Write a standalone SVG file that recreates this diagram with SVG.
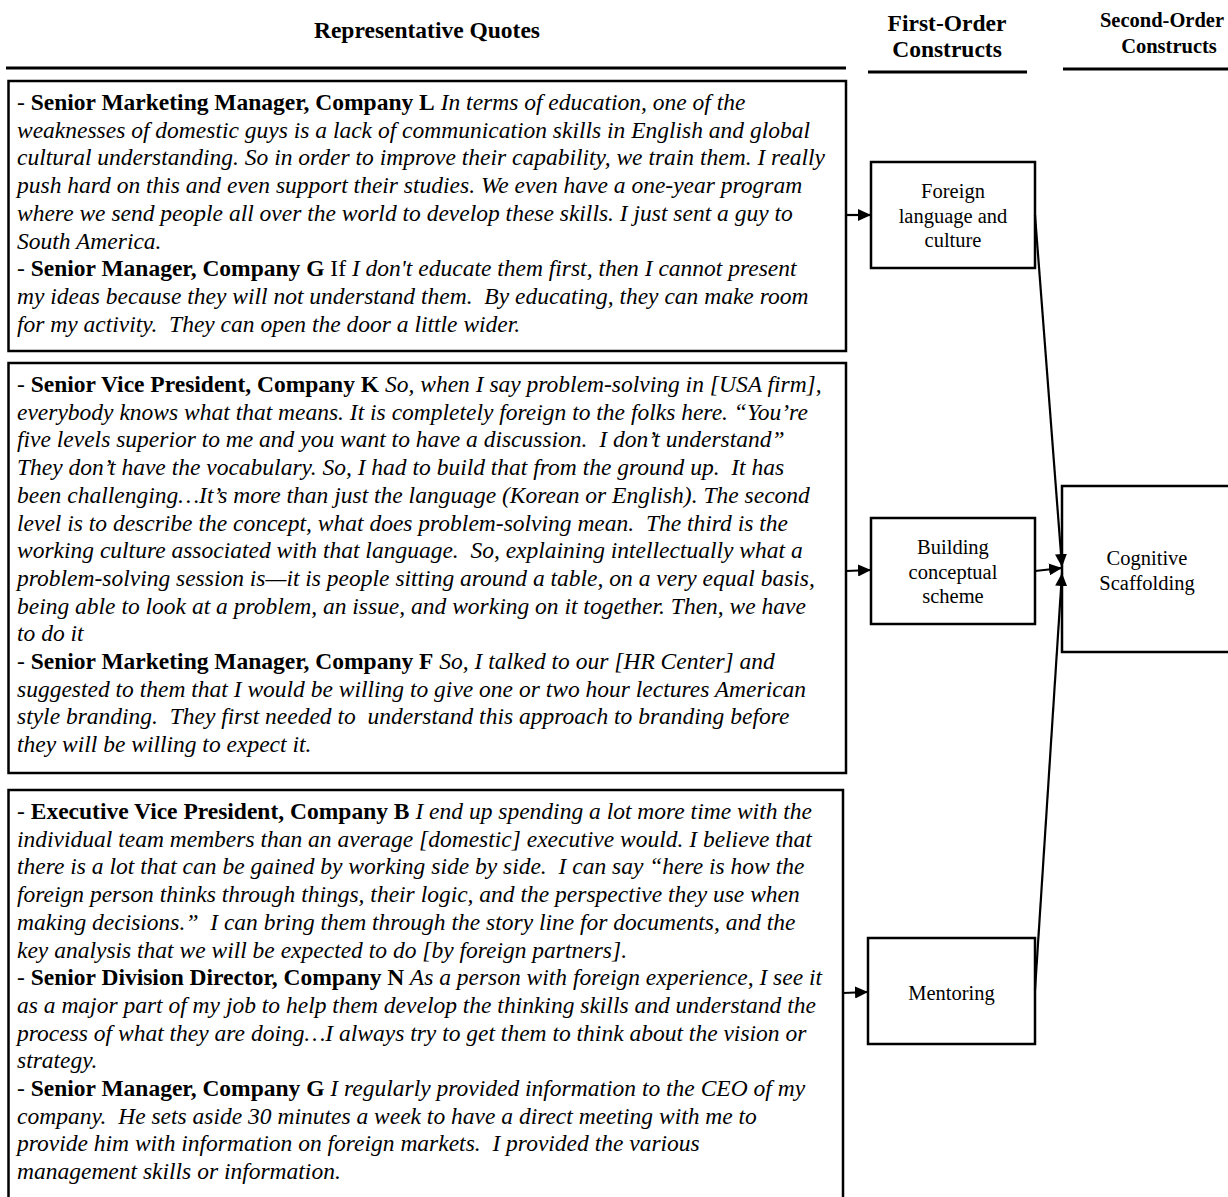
<svg xmlns="http://www.w3.org/2000/svg" width="1228" height="1197" viewBox="0 0 1228 1197">
<style>
.q{font-family:"Liberation Serif","Times New Roman",serif;font-size:23.5px;fill:#000;white-space:pre}
.b{font-weight:bold;font-style:normal}
.i{font-style:italic}
.r{font-style:normal;font-weight:normal}
.h{font-family:"Liberation Serif","Times New Roman",serif;font-size:23.5px;font-weight:bold;fill:#000;text-anchor:middle}
.h2{font-size:20.5px}
.n{font-family:"Liberation Serif","Times New Roman",serif;font-size:20.5px;fill:#000;text-anchor:middle}
.box{fill:#fff;stroke:#000;stroke-width:2.5}
.hl{stroke:#000;stroke-width:3;fill:none}
.c{stroke:#000;stroke-width:2.2;fill:none;marker-end:url(#ah)}
</style>
<defs>
<marker id="ah" markerUnits="userSpaceOnUse" markerWidth="14" markerHeight="12" refX="13" refY="6" orient="auto">
<path d="M0,0 L13,6 L0,12 z" fill="#000"/>
</marker>
</defs>
<rect width="1228" height="1197" fill="#fff"/>

<g id="header">
<text class="h" x="427" y="38">Representative Quotes</text>
<text class="h" x="947" y="31">First-Order</text>
<text class="h" x="947" y="57">Constructs</text>
<text class="h h2" x="1162" y="27">Second-Order</text>
<text class="h h2" x="1169" y="53">Constructs</text>
<line class="hl" x1="6" y1="68" x2="846" y2="68"/>
<line class="hl" x1="868" y1="72" x2="1027" y2="72"/>
<line class="hl" x1="1063" y1="69" x2="1228" y2="69"/>
</g>

<g id="quotes1">
<rect class="box" x="8.5" y="81" width="837.5" height="270"/>
<text class="q" x="17" y="110"><tspan class="r">- </tspan><tspan class="b">Senior Marketing Manager, Company L</tspan><tspan class="i"> In terms of education, one of the</tspan></text>
<text class="q i" x="17" y="137.7">weaknesses of domestic guys is a lack of communication skills in English and global</text>
<text class="q i" x="17" y="165.4">cultural understanding. So in order to improve their capability, we train them. I really</text>
<text class="q i" x="17" y="193.1">push hard on this and even support their studies. We even have a one-year program</text>
<text class="q i" x="17" y="220.8">where we send people all over the world to develop these skills. I just sent a guy to</text>
<text class="q i" x="17" y="248.5">South America.</text>
<text class="q" x="17" y="276.2"><tspan class="r">- </tspan><tspan class="b">Senior Manager, Company G</tspan><tspan class="r"> If </tspan><tspan class="i">I don't educate them first, then I cannot present</tspan></text>
<text class="q i" x="17" y="303.9">my ideas because they will not understand them.  By educating, they can make room</text>
<text class="q i" x="17" y="331.6">for my activity.  They can open the door a little wider.</text>
</g>

<g id="quotes2">
<rect class="box" x="8.5" y="363" width="837.5" height="410"/>
<text class="q" x="17" y="392"><tspan class="r">- </tspan><tspan class="b">Senior Vice President, Company K</tspan><tspan class="i"> So, when I say problem-solving in [USA firm],</tspan></text>
<text class="q i" x="17" y="419.7">everybody knows what that means. It is completely foreign to the folks here. “You’re</text>
<text class="q i" x="17" y="447.4">five levels superior to me and you want to have a discussion.  I don’t understand”</text>
<text class="q i" x="17" y="475.1">They don’t have the vocabulary. So, I had to build that from the ground up.  It has</text>
<text class="q i" x="17" y="502.8">been challenging…It’s more than just the language (Korean or English). The second</text>
<text class="q i" x="17" y="530.5">level is to describe the concept, what does problem-solving mean.  The third is the</text>
<text class="q i" x="17" y="558.2">working culture associated with that language.  So, explaining intellectually what a</text>
<text class="q i" x="17" y="585.9">problem-solving session is—it is people sitting around a table, on a very equal basis,</text>
<text class="q i" x="17" y="613.6">being able to look at a problem, an issue, and working on it together. Then, we have</text>
<text class="q i" x="17" y="641.3">to do it</text>
<text class="q" x="17" y="669"><tspan class="r">- </tspan><tspan class="b">Senior Marketing Manager, Company F</tspan><tspan class="i"> So, I talked to our [HR Center] and</tspan></text>
<text class="q i" x="17" y="696.7">suggested to them that I would be willing to give one or two hour lectures American</text>
<text class="q i" x="17" y="724.4">style branding.  They first needed to  understand this approach to branding before</text>
<text class="q i" x="17" y="752.1">they will be willing to expect it.</text>
</g>

<g id="quotes3">
<rect class="box" x="8.5" y="790" width="834.5" height="420"/>
<text class="q" x="17" y="819"><tspan class="r">- </tspan><tspan class="b">Executive Vice President, Company B</tspan><tspan class="i"> I end up spending a lot more time with the</tspan></text>
<text class="q i" x="17" y="846.7">individual team members than an average [domestic] executive would. I believe that</text>
<text class="q i" x="17" y="874.4">there is a lot that can be gained by working side by side.  I can say “here is how the</text>
<text class="q i" x="17" y="902.1">foreign person thinks through things, their logic, and the perspective they use when</text>
<text class="q i" x="17" y="929.8">making decisions.”  I can bring them through the story line for documents, and the</text>
<text class="q i" x="17" y="957.5">key analysis that we will be expected to do [by foreign partners].</text>
<text class="q" x="17" y="985.2"><tspan class="r">- </tspan><tspan class="b">Senior Division Director, Company N</tspan><tspan class="i"> As a person with foreign experience, I see it</tspan></text>
<text class="q i" x="17" y="1012.9">as a major part of my job to help them develop the thinking skills and understand the</text>
<text class="q i" x="17" y="1040.6">process of what they are doing…I always try to get them to think about the vision or</text>
<text class="q i" x="17" y="1068.3">strategy.</text>
<text class="q" x="17" y="1096"><tspan class="r">- </tspan><tspan class="b">Senior Manager, Company G</tspan><tspan class="i"> I regularly provided information to the CEO of my</tspan></text>
<text class="q i" x="17" y="1123.7">company.  He sets aside 30 minutes a week to have a direct meeting with me to</text>
<text class="q i" x="17" y="1151.4">provide him with information on foreign markets.  I provided the various</text>
<text class="q i" x="17" y="1179.1">management skills or information.</text>
</g>

<g id="foreign">
<rect class="box" x="871" y="162" width="164" height="106"/>
<text class="n" x="953" y="198">Foreign</text>
<text class="n" x="953" y="222.5">language and</text>
<text class="n" x="953" y="247">culture</text>
</g>

<g id="building">
<rect class="box" x="871" y="518" width="164" height="106"/>
<text class="n" x="953" y="554">Building</text>
<text class="n" x="953" y="578.5">conceptual</text>
<text class="n" x="953" y="603">scheme</text>
</g>

<g id="mentoring">
<rect class="box" x="868" y="938" width="167" height="106"/>
<text class="n" x="951.5" y="999.5">Mentoring</text>
</g>

<g id="cognitive">
<rect class="box" x="1062" y="486" width="170" height="166"/>
<text class="n" x="1147" y="565">Cognitive</text>
<text class="n" x="1147" y="590">Scaffolding</text>
</g>

<g id="connectors">
<line class="c" x1="846" y1="215" x2="871" y2="215"/>
<line class="c" x1="846" y1="571" x2="871" y2="570"/>
<line class="c" x1="843" y1="993" x2="868" y2="992"/>
<line class="c" x1="1035" y1="571" x2="1062" y2="568"/>
<line class="c" x1="1035" y1="215" x2="1062" y2="567"/>
<line class="c" x1="1035" y1="990" x2="1062" y2="573"/>
</g>
</svg>
